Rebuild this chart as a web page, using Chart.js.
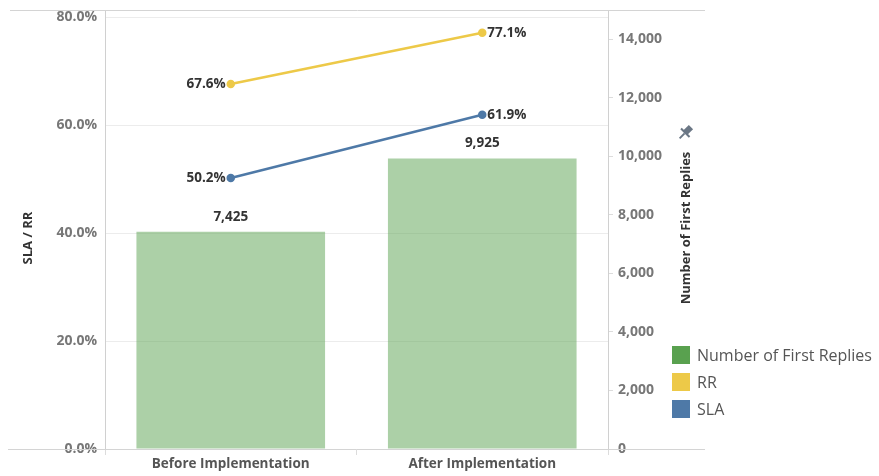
<!DOCTYPE html>
<html>
<head>
<meta charset="utf-8">
<script src="https://cdn.jsdelivr.net/npm/chart.js@4"></script>
<style>
  html, body { margin: 0; padding: 0; background: #fff; }
  #wrap { width: 879px; height: 476px; }
</style>
</head>
<body>
<div id="wrap"><canvas id="chart" width="879" height="476"></canvas></div>
<script>
const categories = ['Before Implementation', 'After Implementation'];
const firstReplies = [7425, 9925];
const rrValues = [67.6, 77.1];
const slaValues = [50.2, 61.9];
const pctTicks = [0, 20, 40, 60, 80];
const countTicks = [0, 2000, 4000, 6000, 8000, 10000, 12000, 14000];

const FONT = "'Open Sans', sans-serif";
const green = '#59a14f', yellow = '#edc948', blue = '#4e79a7';

function setTicks(list) {
    return scale => { scale.ticks = list.map(v => ({ value: v })); };
}

function fitY(width) {
    return s => { s.width = width; s.paddingTop = 0; s.paddingBottom = 0; };
}

// data labels, frame lines, axis titles and legend
const decorPlugin = {
    id: 'decor',
    afterDatasetsDraw(chart) {
        const ctx = chart.ctx;
        ctx.save();
        ctx.font = `bold 13.5px ${FONT}`;
        ctx.fillStyle = '#333';
        ctx.textBaseline = 'middle';
        chart.data.datasets.forEach((ds, di) => {
            const meta = chart.getDatasetMeta(di);
            meta.data.forEach((el, i) => {
                const v = ds.data[i];
                if (ds.type === 'bar') {
                    ctx.textAlign = 'center';
                    ctx.fillText(v.toLocaleString('en-US'), el.x, el.y - 15);
                } else {
                    const txt = v.toFixed(1) + '%';
                    if (i === 0) { ctx.textAlign = 'right'; ctx.fillText(txt, el.x - 5, el.y); }
                    else { ctx.textAlign = 'left'; ctx.fillText(txt, el.x + 5, el.y); }
                }
            });
        });
        ctx.restore();
    },
    afterDraw(chart) {
        const ctx = chart.ctx;
        const a = chart.chartArea;
        ctx.save();
        // frame lines
        ctx.strokeStyle = '#d4d4d4';
        ctx.lineWidth = 1;
        ctx.beginPath();
        ctx.moveTo(10, a.top + 0.5); ctx.lineTo(705, a.top + 0.5);
        ctx.moveTo(8, a.bottom + 0.5); ctx.lineTo(705, a.bottom + 0.5);
        ctx.stroke();

        // axis titles
        ctx.fillStyle = '#333';
        ctx.font = `bold 13px ${FONT}`;
        ctx.textAlign = 'center';
        ctx.textBaseline = 'middle';
        ctx.save();
        ctx.translate(28, 238);
        ctx.rotate(-Math.PI / 2);
        ctx.fillText('SLA / RR', 0, 0);
        ctx.restore();
        ctx.save();
        ctx.translate(686, 228);
        ctx.rotate(-Math.PI / 2);
        ctx.fillText('Number of First Replies', 0, 0);
        ctx.restore();

        // pin icon
        ctx.save();
        ctx.translate(686, 132);
        ctx.rotate(Math.PI / 4);
        ctx.fillStyle = '#6b7785';
        ctx.fillRect(-3, -7, 6, 8);
        ctx.fillRect(-6, 0, 12, 2);
        ctx.fillRect(-1, 2, 2, 7);
        ctx.restore();

        // legend
        const items = [
            ['Number of First Replies', green],
            ['RR', yellow],
            ['SLA', blue],
        ];
        ctx.font = `16px ${FONT}`;
        ctx.textAlign = 'left';
        items.forEach((it, i) => {
            const y = 346 + i * 27;
            ctx.fillStyle = it[1];
            ctx.fillRect(672, y, 18, 18);
            ctx.fillStyle = '#555';
            ctx.fillText(it[0], 697, y + 10);
        });
        ctx.restore();
    }
};

new Chart(document.getElementById('chart'), {
    data: {
        labels: categories,
        datasets: [
            {
                type: 'line',
                label: 'RR',
                data: rrValues,
                yAxisID: 'yPct',
                borderColor: yellow,
                backgroundColor: yellow,
                borderWidth: 2.5,
                pointRadius: 3,
                order: 0,
            },
            {
                type: 'line',
                label: 'SLA',
                data: slaValues,
                yAxisID: 'yPct',
                borderColor: blue,
                backgroundColor: blue,
                borderWidth: 2.5,
                pointRadius: 3,
                order: 0,
            },
            {
                type: 'bar',
                label: 'Number of First Replies',
                data: firstReplies,
                yAxisID: 'yCount',
                backgroundColor: 'rgba(89, 161, 79, 0.5)',
                categoryPercentage: 1,
                barPercentage: 0.75,
                order: 1,
            },
        ],
    },
    options: {
        responsive: false,
        animation: false,
        layout: { padding: { top: 10, right: 179, bottom: 0, left: 0 } },
        plugins: {
            legend: { display: false },
            tooltip: { enabled: false },
        },
        scales: {
            x: {
                offset: true,
                afterFit: s => { s.height = 27; s.paddingLeft = 0; s.paddingRight = 0; },
                grid: { drawOnChartArea: false, tickLength: 6, color: '#dcdcdc' },
                border: { display: false },
                ticks: { color: '#555', font: { family: FONT, size: 13.5, weight: 'bold' }, padding: 1 },
            },
            yPct: {
                position: 'left',
                min: 0,
                max: 81.3,
                afterFit: fitY(105),
                afterBuildTicks: setTicks(pctTicks),
                grid: { color: '#ececec', drawTicks: false },
                border: { color: '#d0d0d0' },
                ticks: {
                    padding: 8,
                    color: '#777',
                    font: { family: FONT, size: 14, weight: 'bold' },
                    callback: v => v.toFixed(1) + '%',
                },
            },
            yCount: {
                position: 'right',
                min: 0,
                max: 15000,
                afterFit: fitY(92),
                afterBuildTicks: setTicks(countTicks),
                grid: { drawOnChartArea: false, tickLength: 5, color: '#dcdcdc' },
                border: { color: '#d0d0d0' },
                ticks: {
                    padding: 5,
                    color: '#777',
                    font: { family: FONT, size: 14, weight: 'bold' },
                    callback: v => v.toLocaleString('en-US'),
                },
            },
        },
    },
    plugins: [decorPlugin],
});
</script>
</body>
</html>
